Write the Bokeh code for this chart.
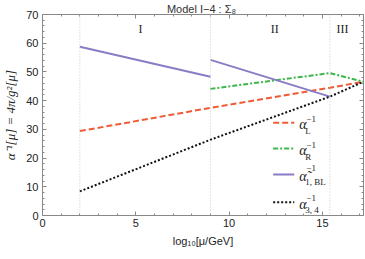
from bokeh.plotting import figure
from bokeh.models import Span, Label, LinearAxis, Range1d, SingleIntervalTicker, CustomJSTickFormatter
from bokeh.embed import file_html
from bokeh.resources import INLINE

# ---- data ----
title_text = "Model I\u22124 :  \u03a3\u2088"
x_label = "log\u2081\u2080[\u03bc/GeV]"
y_label = "\u03b1\u207b\u00b9[\u03bc] = 4\u03c0/g\u00b2[\u03bc]"

thresholds = [2.0, 9.0, 15.4]
region_names = ["I", "II", "III"]
region_x = [5.25, 12.45, 16.07]
region_y = 64.8

xL = [2.0, 9.0, 15.4, 17.2]
aL = [29.4, 37.5, 44.5, 46.6]

xR = [9.0, 15.4, 17.2]
aR = [44.1, 49.6, 46.6]

xBL1 = [2.0, 9.0]
aBL1 = [58.8, 48.3]
xBL2 = [9.0, 15.4]
aBL2 = [54.2, 41.4]

x34 = [2.0, 9.0, 15.4, 17.2]
a34 = [8.4, 26.4, 41.4, 46.6]

x_max = 17.2
y_max = 70

red = "#EF5B35"
green = "#3DB74B"
purple = "#8A7CC4"
black = "#111111"

p = figure(frame_width=321, frame_height=201, x_range=Range1d(0, x_max), y_range=Range1d(0, y_max),
           output_backend="svg", toolbar_location=None, title=title_text,
           min_border_left=33, min_border_right=3, min_border_top=0, min_border_bottom=39)
p.background_fill_color = "white"
p.border_fill_color = "white"
p.xgrid.visible = False
p.ygrid.visible = False
p.outline_line_color = "#888888"
p.title.align = "center"
p.title.text_font = "Liberation Sans"
p.title.text_font_size = "11px"
p.title.text_font_style = "normal"
p.title.text_color = "#333333"
p.title.standoff = 0
p.title.offset = 0

blank = CustomJSTickFormatter(code="return ''")

def style_axis(ax, major, minors, show_labels=True):
    ax.ticker = SingleIntervalTicker(interval=major, num_minor_ticks=minors)
    ax.axis_line_color = "#888888"
    ax.major_tick_line_color = "#888888"
    ax.minor_tick_line_color = "#888888"
    ax.major_tick_in = 4
    ax.major_tick_out = 0
    ax.minor_tick_in = 2
    ax.minor_tick_out = 0
    ax.major_label_text_font = "Liberation Sans"
    ax.major_label_text_font_size = "11px"
    ax.major_label_text_color = "#222222"
    if not show_labels:
        ax.formatter = blank
        ax.major_label_standoff = 0

xa = p.xaxis[0]
ya = p.yaxis[0]
style_axis(xa, 5, 5)
style_axis(ya, 10, 5)
xa.major_label_standoff = 3
ya.major_label_standoff = 4
xa.axis_label = x_label
ya.axis_label = y_label
xa.axis_label_text_font = "Liberation Sans"
xa.axis_label_text_font_size = "11px"
xa.axis_label_text_font_style = "normal"
ya.axis_label_text_font = "Liberation Serif"
ya.axis_label_text_font_size = "13px"
ya.axis_label_text_font_style = "italic"
for ax in (xa, ya):
    ax.axis_label_text_color = "#222222"
xa.axis_label_standoff = 5
ya.axis_label_standoff = 5

top = LinearAxis()
style_axis(top, 5, 5, show_labels=False)
p.add_layout(top, "above")
right = LinearAxis()
style_axis(right, 10, 5, show_labels=False)
p.add_layout(right, "right")

# threshold lines
for t in thresholds:
    p.add_layout(Span(location=t, dimension="height", line_color="#c8c8c8",
                      line_dash="1 2", line_width=1))

# curves
p.line(xL, aL, line_color=red, line_width=2, line_dash="6 3")
p.line(xR, aR, line_color=green, line_width=2, line_dash="5 2 2 2")
p.line(xBL1, aBL1, line_color=purple, line_width=2)
p.line(xBL2, aBL2, line_color=purple, line_width=2)
p.line(x34, a34, line_color=black, line_width=2, line_dash="2 2")

# region labels
for name, rx in zip(region_names, region_x):
    p.add_layout(Label(x=rx, y=region_y, text=name, text_align="center", text_baseline="middle",
                       text_font="Liberation Serif", text_font_size="12px", text_color="#222222"))

# legend
leg_rows = [32.3, 23.3, 14.3, 4.6]
leg_x0, leg_x1, leg_tx = 12.36, 13.49, 13.76
leg_styles = [(red, "6 3"), (green, "5 2 2 2"), (purple, "solid"), (black, "2 2")]
leg_main = ["\u03b1", "\u03b1", "\u03b1\u0303", "\u03b1"]
leg_sub = ["L", "R", "1, BL", "3, 4"]
leg_sup_dy = [4, 4, 6, 4]
for ry, (c, d), m, s, sd in zip(leg_rows, leg_styles, leg_main, leg_sub, leg_sup_dy):
    p.line([leg_x0, leg_x1], [ry, ry], line_color=c, line_width=2, line_dash=d)
    p.add_layout(Label(x=leg_tx, y=ry, y_offset=-2, text=m, text_baseline="middle", text_align="left",
                       text_font="Liberation Serif", text_font_style="italic", text_font_size="14px",
                       text_color="#222222"))
    p.add_layout(Label(x=leg_tx, y=ry, x_offset=7, y_offset=sd, text="\u22121", text_baseline="middle",
                       text_align="left", text_font="Liberation Serif", text_font_size="9px",
                       text_color="#222222"))
    p.add_layout(Label(x=leg_tx, y=ry, x_offset=6, y_offset=-8, text=s, text_baseline="middle",
                       text_align="left", text_font="Liberation Serif", text_font_size="9px",
                       text_color="#222222"))

open("out.html", "w").write(file_html(p, INLINE))
